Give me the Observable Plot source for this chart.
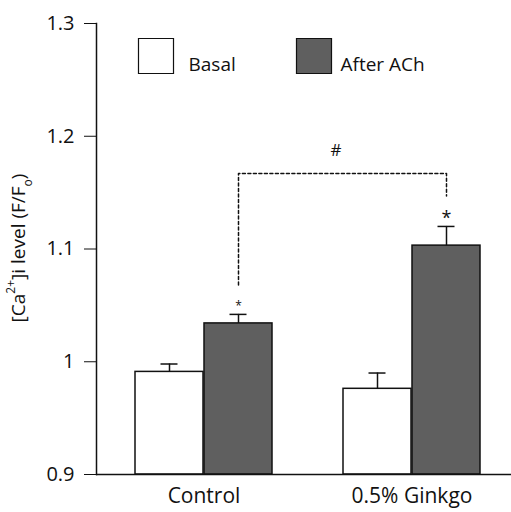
<!DOCTYPE html>
<html><head><meta charset="utf-8">
<script src="https://cdn.jsdelivr.net/npm/d3@7"></script>
<script src="https://cdn.jsdelivr.net/npm/@observablehq/plot@0.6"></script>
<style>body{margin:0;background:#fff}</style>
</head><body><div id="chart"></div>
<script>
const groups = ["Control", "0.5% Ginkgo"];
const seriesNames = ["Basal", "After ACh"];
const basalMean = [0.991, 0.976];
const basalErr = [0.007, 0.014];
const achMean = [1.034, 1.103];
const achErr = [0.008, 0.017];
const yTicks = [0.9, 1.0, 1.1, 1.2, 1.3];
const bracketGroups = ["Control", "Control", "0.5% Ginkgo", "0.5% Ginkgo"];
const bracketY = [1.068, 1.167, 1.167, 1.147];
const diffMarkY = [1.1875];
const sigMarks = ["*", "*"];
const diffMark = ["#"];
const yLabelParts = ["[Ca", "2+", "]i level (F/F", "o", ")"];

const basal = groups.map((g, i) => ({group: g, value: basalMean[i], err: basalErr[i]}));
const ach = groups.map((g, i) => ({group: g, value: achMean[i], err: achErr[i], mark: sigMarks[i], size: i === 0 ? 12 : 18}));
const bracket = bracketGroups.map((g, i) => ({group: g, y: bracketY[i]}));

const half = 69;
const ink = "#111";
const dark = "#5f5f5f";

const plot = Plot.plot({
  width: 511, height: 512,
  marginLeft: 96, marginRight: 0, marginTop: 23, marginBottom: 38,
  style: {fontFamily: "'Open Sans', sans-serif", fontSize: "20px", color: ink, background: "white"},
  x: {domain: groups, paddingInner: 0.34, paddingOuter: 0.163, align: 0.56, label: null},
  y: {domain: [0.9, 1.3], label: null},
  marks: [
    Plot.barY(basal, {x: "group", y1: 0.9, y2: "value", fill: "white", stroke: ink, strokeWidth: 1.5, insetRight: half}),
    Plot.barY(ach, {x: "group", y1: 0.9, y2: "value", fill: dark, stroke: ink, strokeWidth: 1.5, insetLeft: half}),
    Plot.ruleX(basal, {x: "group", y1: "value", y2: d => d.value + d.err, dx: -half / 2, stroke: ink, strokeWidth: 1.5}),
    Plot.tickY(basal, {x: "group", y: d => d.value + d.err, dx: -half / 2, insetLeft: 60, insetRight: 60, stroke: ink, strokeWidth: 1.5}),
    Plot.ruleX(ach, {x: "group", y1: "value", y2: d => d.value + d.err, dx: half / 2, stroke: ink, strokeWidth: 1.5}),
    Plot.tickY(ach, {x: "group", y: d => d.value + d.err, dx: half / 2, insetLeft: 60, insetRight: 60, stroke: ink, strokeWidth: 1.5}),
    Plot.text(ach, {x: "group", y: d => d.value + d.err, text: "mark", fontSize: "size", dx: half / 2, dy: -8, fill: ink}),
    Plot.line(bracket, {x: "group", y: "y", dx: half / 2, stroke: ink, strokeWidth: 1.5, strokeDasharray: "3,2.5"}),
    Plot.text(diffMark, {x: () => groups[0], y: diffMarkY, text: d => d, dx: 132, fontSize: 17, fill: ink}),
    Plot.ruleY([0.9], {stroke: ink, strokeWidth: 1.5}),
    Plot.frame({anchor: "left", stroke: ink, strokeWidth: 1.5}),
    Plot.axisY({ticks: yTicks, tickSize: 12, tickPadding: 10, tickFormat: d => String(+d.toFixed(1)), label: null, fontSize: 20}),
    Plot.axisX({tickSize: 0, tickPadding: 14, label: null, fontSize: 21}),
    Plot.dot([seriesNames[0]], {frameAnchor: "top-left", dx: 59.5, dy: 32.5, symbol: "square", r: 19.75, fill: "white", stroke: ink, strokeWidth: 1.2}),
    Plot.dot([seriesNames[1]], {frameAnchor: "top-left", dx: 217.5, dy: 32.5, symbol: "square", r: 19.75, fill: dark, stroke: ink, strokeWidth: 1.2}),
    Plot.text([seriesNames[0]], {frameAnchor: "top-left", dx: 92, dy: 34, textAnchor: "start", fontSize: 19, fill: ink}),
    Plot.text([seriesNames[1]], {frameAnchor: "top-left", dx: 244, dy: 34, textAnchor: "start", fontSize: 19, fill: ink})
  ]
});

const svg = d3.select(plot);
const lab = svg.append("text")
  .attr("transform", "translate(20,248) rotate(-90)")
  .attr("text-anchor", "middle")
  .attr("dominant-baseline", "middle")
  .attr("fill", ink)
  .style("font-size", "19px");
lab.append("tspan").text(yLabelParts[0]);
lab.append("tspan").attr("baseline-shift", "super").style("font-size", "12px").text(yLabelParts[1]);
lab.append("tspan").text(yLabelParts[2]);
lab.append("tspan").attr("baseline-shift", "sub").style("font-size", "12px").text(yLabelParts[3]);
lab.append("tspan").text(yLabelParts[4]);

document.getElementById("chart").append(plot);
</script>
</body></html>
